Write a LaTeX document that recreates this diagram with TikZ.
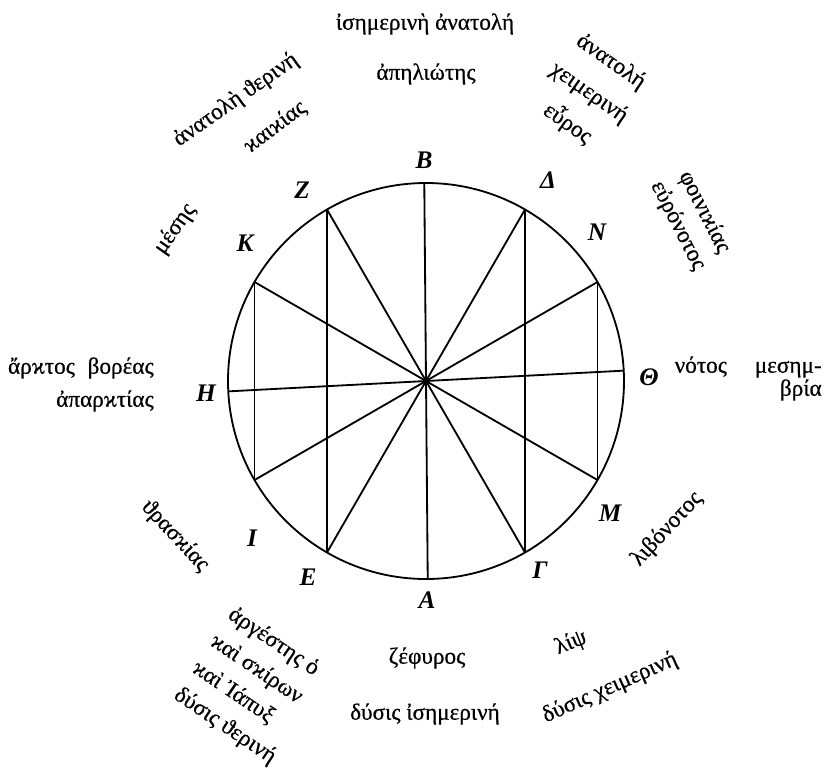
\documentclass[tikz,border=0pt]{standalone}
\usepackage{fontspec}
\newfontfamily\grk{Liberation Serif}
\newfontfamily\grkt[FakeBold=0.6]{Liberation Serif}
\tikzset{
	lett/.style = {font=\grk\fontsize{18}{18}\selectfont\bfseries\itshape, inner sep=0pt},
	wind/.style = {font=\grkt\fontsize{16.5}{24}\selectfont, inner sep=0pt, align=center},
	rim/.style = {line width=1.3pt}
}
\begin{document}
\begin{tikzpicture}[x=0.25mm, y=-0.25mm]
	\useasboundingbox (0,0) rectangle (825,770);
	\coordinate (O) at (426,381);
	\draw[rim] (O) circle (198);
	% points of the rose, angles counted as seen
	\foreach \n/\a in {pB/90.5, pZ/120, pK/150, pH/183, pI/210, pE/240, pA/270.5, pG/300, pM/330, pT/3, pN/30, pD/60}
		\path (O) ++(-\a:198) coordinate (\n);
	\draw[rim] (pB) -- (pA);
	\draw[rim] (pH) -- (pT);
	\draw[rim] (pZ) -- (pG);
	\draw[rim] (pK) -- (pM);
	\draw[rim] (pI) -- (pN);
	\draw[rim] (pE) -- (pD);
	\draw[rim] (pZ) -- (pE);
	\draw[rim] (pK) -- (pI);
	\draw[rim] (pD) -- (pG);
	\draw[rim] (pN) -- (pM);
	% letters
	\node[lett] (lB) at (424,160) {Β};
	\node[lett] (lZ) at (302,190) {Ζ};
	\node[lett] (lK) at (245,243) {Κ};
	\node[lett] (lH) at (206,393) {Η};
	\node[lett] (lI) at (252,538) {Ι};
	\node[lett] (lE) at (308,577) {Ε};
	\node[lett] (lA) at (427,600) {Α};
	\node[lett] (lG) at (540,570) {Γ};
	\node[lett] (lM) at (610,513) {Μ};
	\node[lett] (lT) at (649,377) {Θ};
	\node[lett] (lN) at (597,232) {Ν};
	\node[lett] (lD) at (548,180) {Δ};
	% winds
	\node[wind] (isan) at (425,24) {ἰσημερινὴ ἀνατολή};
	\node[wind] (apel) at (426,74) {ἀπηλιώτης};
	\node[wind, rotate=-35, font=\grkt\fontsize{16.5}{27}\selectfont] (euros) at (589,93) {ἀνατολή\\χειμερινή\\εὖρος};
	\node[wind, rotate=-63, font=\grkt\fontsize{16.5}{21}\selectfont] (phoin) at (691,219) {φοινιϰίας\\εὐρόνοτος};
	\node[wind, rotate=35] (anther) at (236,100) {ἀνατολὴ ϑερινή};
	\node[wind, rotate=37] (kaik) at (275,127) {ϰαιϰίας};
	\node[wind, rotate=55] (meses) at (175,229) {μέσης};
	\node[wind, anchor=east] (arkt) at (154,368) {ἄρϰτος\hspace{0.55em}βορέας};
	\node[wind, anchor=east] (aparkt) at (154,401) {ἀπαρϰτίας};
	\node[wind, anchor=east] (notos) at (822,367) {νότος\hspace{1.2em}μεσημ-};
	\node[wind, anchor=east] (bria) at (822,390) {βρία};
	\node[wind, rotate=-47] (thrask) at (175,536) {ϑρασϰίας};
	\node[wind, rotate=47] (libon) at (667,529) {λιβόνοτος};
	\node[wind] (zeph) at (427,658) {ζέφυρος};
	\node[wind] (dysis) at (425,714) {δύσις ἰσημερινή};
	\node[wind, rotate=22] (lips) at (571,643) {λίψ};
	\node[wind, rotate=24] (dyscheim) at (610,688) {δύσις χειμερινή};
	\node[wind, rotate=-34, align=left, font=\grkt\fontsize{16.5}{23}\selectfont] (arg) at (252,686) {ἀργέστης ὁ\\ϰαὶ σϰίρων\\ϰαὶ Ἰάπυξ\\δύσις ϑερινή};
\end{tikzpicture}
\end{document}
